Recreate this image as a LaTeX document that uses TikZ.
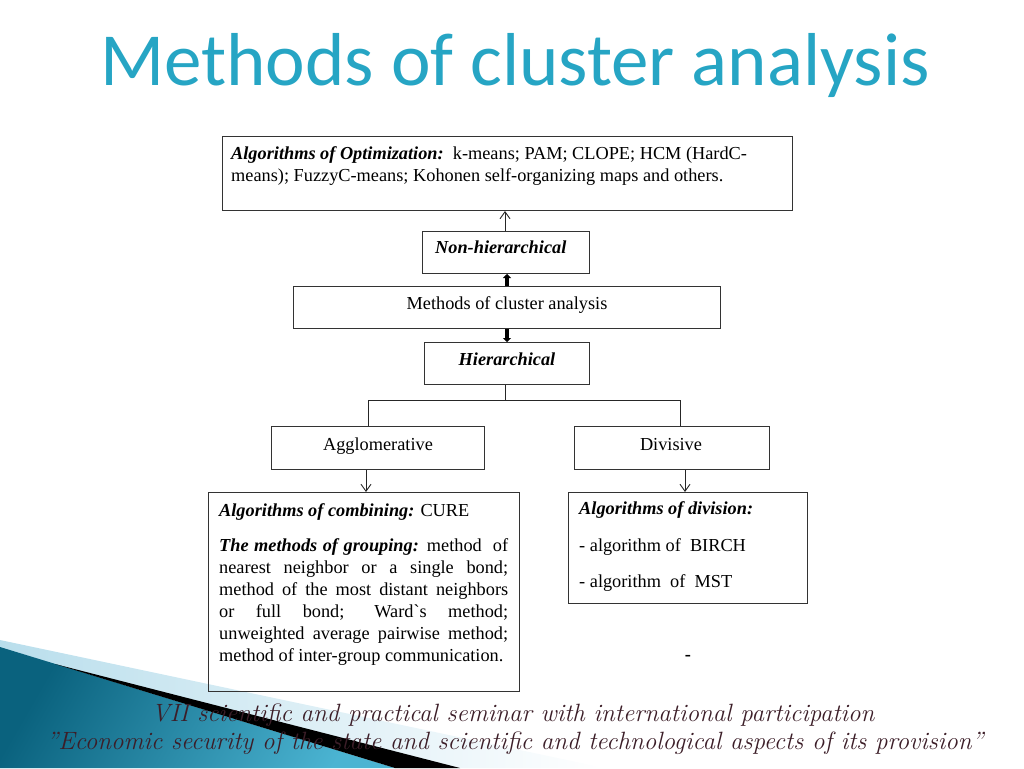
\documentclass[tikz,border=0pt]{standalone}
\usepackage{fontspec}
\usetikzlibrary{arrows.meta}
\newfontfamily\tnr{Liberation Serif}
\newfontfamily\calfont{Carlito}
\definecolor{titlecol}{RGB}{38,165,196}
\definecolor{tealdark}{RGB}{10,98,126}
\definecolor{teallight}{RGB}{75,180,210}
\definecolor{skyl}{RGB}{185,222,236}
\definecolor{foot}{RGB}{60,30,40}
\begin{document}
\begin{tikzpicture}[x=1pt,y=-1pt,
  box/.style={draw=black!80,line width=1pt},
  txt/.style={inner sep=0pt,font=\tnr\fontsize{18.3}{22}\selectfont},
  foottxt/.style={inner sep=0pt,text=foot,font=\itshape\fontsize{25}{25}\selectfont,anchor=base},
  conn/.style={draw=black!85,line width=0.9pt},
  openarr/.style={conn,-{Straight Barb[length=7pt,width=10pt]}},
  thickarr/.style={draw=black,line width=3.5pt,-{Triangle[length=4pt,width=8pt]}}]
\useasboundingbox (0,0) rectangle (1024,768);
% decoration bottom-left
\shade[left color=skyl,right color=white] (0,640) -- (605,768) -- (0,768) -- cycle;
\shade[left color=tealdark,right color=teallight,shading angle=60] (0,647) -- (395,768) -- (0,768) -- cycle;
\fill[black] (55,664) -- (460,768) -- (395,768) -- cycle;
% title
\node[inner sep=0pt,text=titlecol,font=\calfont\fontsize{75}{75}\selectfont,anchor=base] (title) at (515,85) {Methods of cluster analysis};
% boxes
\node[box,minimum width=570pt,minimum height=74pt,anchor=north west] (opt) at (222,136) {};
\node[box,minimum width=167pt,minimum height=42pt,anchor=north west] (nonh) at (422,231) {};
\node[box,minimum width=427pt,minimum height=42pt,anchor=north west] (meth) at (293,286) {};
\node[box,minimum width=165pt,minimum height=42pt,anchor=north west] (hier) at (424,342) {};
\node[box,minimum width=213pt,minimum height=43pt,anchor=north west] (agg) at (271,426) {};
\node[box,minimum width=195pt,minimum height=43pt,anchor=north west] (div) at (574,426) {};
\node[box,minimum width=311pt,minimum height=199pt,anchor=north west] (comb) at (208,492) {};
\node[box,minimum width=239pt,minimum height=111pt,anchor=north west] (divi) at (568,492) {};
% texts
\node[txt,anchor=base west] (o1) at (231,159) {\textbf{\textit{Algorithms of Optimization:}}\ \ k-means; PAM; CLOPE; HCM (HardC-};
\node[txt,anchor=base west] (o2) at (231,181) {means); FuzzyC-means; Kohonen self-organizing maps and others.};
\node[txt,anchor=base west] (nt) at (435,253) {\textbf{\textit{Non-hierarchical}}};
\node[txt,anchor=base] (mt) at (507,309) {Methods of cluster analysis};
\node[txt,anchor=base] (ht) at (507,365) {\textbf{\textit{Hierarchical}}};
\node[txt,anchor=base] (at) at (378,450) {Agglomerative};
\node[txt,anchor=base] (dt) at (671,450) {Divisive};
\node[txt,anchor=base west] (c0) at (219,516) {\textbf{\textit{Algorithms of combining:}} CURE};
\foreach \t [count=\i] in {
  {\textbf{\textit{The methods of grouping:}} method\ \ of},
  {nearest neighbor or a single bond;},
  {method of the most distant neighbors},
  {or full bond; Ward`s method;},
  {unweighted average pairwise method;}}
  \node[txt,anchor=base west] (c\i) at (219,529+22*\i) {\makebox[289pt][s]{\t}};
\node[txt,anchor=base west] (c6) at (219,661) {method of inter-group communication.};
\node[txt,anchor=base west] (d0) at (579,514) {\textbf{\textit{Algorithms of division:}}};
\node[txt,anchor=base west] (d1) at (579,551) {- algorithm of\ \ BIRCH};
\node[txt,anchor=base west] (d2) at (579,587) {- algorithm\ \ of\ \ MST};
\node[txt,anchor=base] (dash) at (688,660) {\textbf{-}};
% connectors
\draw[openarr] (nonh.north -| 505,0) -- (opt.south -| 505,0);
\draw[thickarr] (meth.north -| 507,0) -- (nonh.south -| 507,0);
\draw[thickarr] (meth.south -| 507,0) -- (hier.north -| 507,0);
\coordinate (jl) at (368,400);
\coordinate (jr) at (680,400);
\draw[conn] (hier.south -| 505,0) -- (505,400);
\draw[conn] (jl) -- (jr);
\draw[conn] (jl) -- (agg.north -| jl);
\draw[conn] (jr) -- (div.north -| jr);
\draw[openarr] (agg.south -| 366,0) -- (comb.north -| 366,0);
\draw[openarr] (div.south -| 685,0) -- (divi.north -| 685,0);
% footer
\node[foottxt] (f1) at (513,721) {VII scientific and practical seminar with international participation};
\node[foottxt] (f2) at (515,749) {\symbol{"22}Economic security of the state and scientific and technological aspects of its provision\symbol{"22}};
\end{tikzpicture}
\end{document}
